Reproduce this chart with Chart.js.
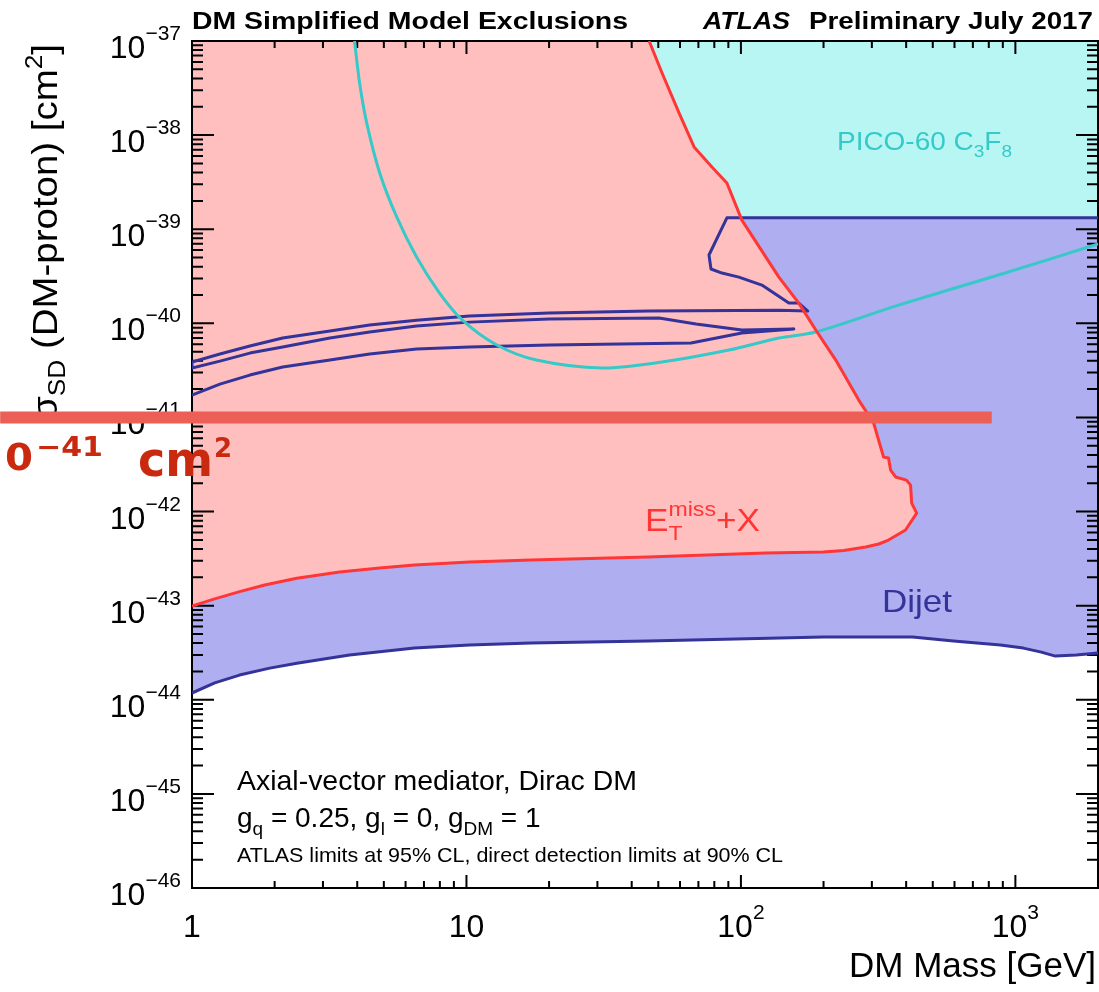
<!DOCTYPE html>
<html>
<head>
<meta charset="utf-8">
<title>DM Simplified Model Exclusions</title>
<script src="https://cdn.jsdelivr.net/npm/chart.js@4.4.1/dist/chart.umd.min.js"></script>
<style>
  html, body { margin: 0; padding: 0; background: #fff; }
  #wrap { position: relative; width: 1099px; height: 992px; }
</style>
</head>
<body>
<div id="wrap"><canvas id="chart"></canvas></div>
<script>
// E_T^miss + X contour: down from the top edge, round the nose, back along the bottom to m = 1
const metMass = [46.3, 51.6, 59.5, 67.5, 78.4, 88.9, 100.8, 137.5, 162.5, 187.4, 221.6, 268.7, 304.5, 331, 345,
  351, 366, 401, 415, 419, 437, 398, 345, 318, 285, 237, 200, 123, 45.9, 17.2, 10.25, 6.47, 4.83, 3.45, 2.41,
  1.84, 1.48, 1.21, 1];
const metXsec = [1e-37, 4.57e-38, 1.72e-38, 7.48e-39, 4.58e-39, 3.10e-39, 1.25e-39, 3.10e-40, 1.64e-40, 8.49e-41,
  4.07e-41, 1.53e-41, 8.72e-42, 3.79e-42, 3.70e-42, 2.76e-42, 2.33e-42, 2.16e-42, 1.91e-42, 1.23e-42, 9.64e-43,
  6.36e-43, 4.98e-43, 4.52e-43, 4.20e-43, 3.85e-43, 3.71e-43, 3.62e-43, 3.28e-43, 3.05e-43, 2.91e-43, 2.70e-43,
  2.51e-43, 2.28e-43, 1.96e-43, 1.66e-43, 1.40e-43, 1.18e-43, 9.9e-44];

// dijet upper contour (the loop, then the thin strips running off to the left)
const dijetMass = [2000, 88.9, 76.5, 77.8, 85.3, 98.3, 119.2, 149.5, 162.5, 175.2, 137.5, 46.3, 20.0, 10.25, 6.58,
  4.44, 3.18, 2.14, 1.625, 1.264, 1, 1, 1.264, 1.625, 2.14, 3.18, 4.44, 6.58, 10.25, 20.0, 50.3, 68.6, 100.8, 155.9,
  100.8, 65.8, 20.0, 10.25, 6.58, 4.44, 3.18, 2.14, 1.625, 1.264, 1];
const dijetXsec = [1.32e-39, 1.32e-39, 5.32e-40, 3.78e-40, 3.42e-40, 3.10e-40, 2.55e-40, 1.64e-40, 1.64e-40,
  1.35e-40, 1.38e-40, 1.35e-40, 1.29e-40, 1.20e-40, 1.08e-40, 9.59e-41, 8.28e-41, 6.98e-41, 5.74e-41, 4.72e-41,
  3.88e-41, 3.35e-41, 3.97e-41, 4.83e-41, 5.60e-41, 6.98e-41, 8.09e-41, 9.36e-41, 1.03e-40, 1.11e-40, 1.14e-40,
  9.84e-41, 8.49e-41, 8.70e-41, 7.88e-41, 6.18e-41, 5.88e-41, 5.60e-41, 5.33e-41, 4.72e-41, 4.07e-41, 3.43e-41,
  2.82e-41, 2.26e-41, 1.73e-41];

// dijet lower edge
const dijetLowMass = [1, 1.21, 1.49, 1.92, 2.41, 3.75, 6.47, 10.25, 17.2, 45.9, 200, 422, 595, 882, 1069, 1243,
  1398, 1667, 2000];
const dijetLowXsec = [1.18e-44, 1.51e-44, 1.83e-44, 2.17e-44, 2.45e-44, 2.99e-44, 3.54e-44, 3.81e-44, 4.01e-44,
  4.21e-44, 4.64e-44, 4.64e-44, 4.21e-44, 3.81e-44, 3.54e-44, 3.21e-44, 2.91e-44, 2.99e-44, 3.14e-44];

// PICO-60 C3F8
const picoMass = [3.91, 4.08, 4.33, 4.83, 5.57, 6.58, 7.98, 9.67, 12.9, 17.97, 31.2, 51.6, 90.4, 137.5, 187.4,
  375, 868, 2000];
const picoXsec = [1.0e-37, 3.58e-38, 1.35e-38, 3.96e-39, 1.35e-39, 5.07e-40, 2.10e-40, 1.08e-40, 5.88e-41, 4.07e-41,
  3.35e-41, 3.88e-41, 5.20e-41, 6.98e-41, 8.09e-41, 1.56e-40, 3.26e-40, 6.97e-40];

// hand-drawn marker at 1e-41 cm^2
const markMass = [0.2, 820];
const markXsec = [1e-41, 1e-41];

const xTickValues = [1, 10, 100, 1000];
const xTickLabels = ['1', '10', '10^2', '10^3'];
const yTickValues = [1e-46, 1e-45, 1e-44, 1e-43, 1e-42, 1e-41, 1e-40, 1e-39, 1e-38, 1e-37];
const yTickLabels = ['10^−46', '10^−45', '10^−44', '10^−43', '10^−42', '10^−41', '10^−40', '10^−39', '10^−38', '10^−37'];

const FONT = '"Liberation Sans", Arial, Helvetica, sans-serif';

function pts(xs, ys) {
    return xs.map((x, i) => ({x: x, y: ys[i]}));
}

function fontOf(r) {
    return (r.style || '') + ' ' + r.size + 'px ' + (r.family || FONT);
}

// draws runs of text (for sub/superscripts); optional width stretches the whole thing
function drawRuns(ctx, runs, x, y, align, color, width) {
    let cur = 0, start = 0, prevW = 0;
    const placed = [];
    runs.forEach(r => {
        ctx.font = fontOf(r);
        const w = ctx.measureText(r.t).width;
        if (r.stack) {
            placed.push([r, start]);
            if (w > prevW) { cur += w - prevW; prevW = w; }
        } else {
            placed.push([r, cur]);
            start = cur; prevW = w; cur += w;
        }
    });
    const sx = width ? width / cur : 1;
    const off = align === 'right' ? -cur : align === 'center' ? -cur / 2 : 0;
    ctx.save();
    ctx.translate(x, y);
    ctx.scale(sx, 1);
    ctx.fillStyle = color;
    ctx.textAlign = 'left';
    ctx.textBaseline = 'alphabetic';
    placed.forEach(([r, px]) => {
        ctx.font = fontOf(r);
        ctx.fillText(r.t, off + px, r.dy || 0);
    });
    ctx.restore();
}

function powerRuns(label, size, supSize, supDy) {
    const [base, exp] = label.split('^');
    const runs = [{t: base, size: size}];
    if (exp) runs.push({t: exp, size: supSize, dy: supDy});
    return runs;
}

const frame = {
    id: 'frame',
    beforeDatasetsDraw(chart) {
        const {ctx, chartArea: a, scales: {x, y}} = chart;
        ctx.save();
        ctx.strokeStyle = '#000';
        ctx.lineWidth = 2;
        ctx.beginPath();
        for (let e = 0; e <= 3; e++) {
            for (let m = 1; m <= 9; m++) {
                const v = m * Math.pow(10, e);
                if (v >= x.max) continue;
                const px = x.getPixelForValue(v);
                const len = m === 1 ? 13 : 7;
                ctx.moveTo(px, a.bottom); ctx.lineTo(px, a.bottom - len);
                ctx.moveTo(px, a.top); ctx.lineTo(px, a.top + len);
            }
        }
        for (let e = -46; e <= -38; e++) {
            for (let m = 1; m <= 9; m++) {
                const py = y.getPixelForValue(m * Math.pow(10, e));
                const len = m === 1 ? 22 : 11;
                ctx.moveTo(a.left, py); ctx.lineTo(a.left + len, py);
                ctx.moveTo(a.right, py); ctx.lineTo(a.right - len, py);
            }
        }
        ctx.stroke();
        ctx.strokeRect(a.left, a.top, a.right - a.left, a.bottom - a.top);

        xTickValues.forEach((v, i) => {
            drawRuns(ctx, powerRuns(xTickLabels[i], 32, 21, -18), x.getPixelForValue(v), 937, 'center', '#000');
        });
        yTickValues.forEach((v, i) => {
            drawRuns(ctx, powerRuns(yTickLabels[i], 32, 21, -18), 181, y.getPixelForValue(v) + 17, 'right', '#000');
        });

        drawRuns(ctx, [{t: 'DM Mass [GeV]', size: 35}], 1096, 977, 'right', '#000');
        ctx.save();
        ctx.translate(57, 44);
        ctx.rotate(-Math.PI / 2);
        drawRuns(ctx, [
            {t: 'σ', size: 35}, {t: 'SD', size: 24, dy: 8}, {t: ' (DM-proton) [cm', size: 35},
            {t: '2', size: 24, dy: -15}, {t: ']', size: 35}
        ], 0, 0, 'right', '#000', 376);
        ctx.restore();

        drawRuns(ctx, [{t: 'DM Simplified Model Exclusions', size: 23, style: 'bold'}], 192, 29, 'left', '#000', 436);
        drawRuns(ctx, [{t: 'ATLAS', size: 23, style: 'italic bold'}], 703, 29, 'left', '#000', 87);
        drawRuns(ctx, [{t: 'Preliminary July 2017', size: 23, style: 'bold'}], 1093, 29, 'right', '#000', 284);
        ctx.restore();
    },
    afterDraw(chart) {
        const ctx = chart.ctx;
        drawRuns(ctx, [{t: 'PICO-60 C', size: 25}, {t: '3', size: 17, dy: 7}, {t: 'F', size: 25}, {t: '8', size: 17, dy: 7}],
            837, 150, 'left', '#36c9c9', 175);
        drawRuns(ctx, [{t: 'E', size: 32}, {t: 'miss', size: 21, dy: -15}, {t: 'T', size: 21, dy: 9, stack: true}, {t: '+X', size: 32}],
            645, 531, 'left', '#ff3636', 115);
        drawRuns(ctx, [{t: 'Dijet', size: 32}], 882, 612, 'left', '#33339a', 70);

        drawRuns(ctx, [{t: 'Axial-vector mediator, Dirac DM', size: 28}], 237, 790, 'left', '#000', 400);
        drawRuns(ctx, [
            {t: 'g', size: 28}, {t: 'q', size: 19, dy: 8}, {t: ' = 0.25, g', size: 28}, {t: 'l', size: 19, dy: 8},
            {t: ' = 0, g', size: 28}, {t: 'DM', size: 19, dy: 8}, {t: ' = 1', size: 28}
        ], 237, 827, 'left', '#000');
        drawRuns(ctx, [{t: 'ATLAS limits at 95% CL, direct detection limits at 90% CL', size: 21}], 237, 862, 'left', '#000', 546);

        // handwritten note under the marker
        const hand = {family: '"DejaVu Sans", sans-serif', style: 'bold'};
        drawRuns(ctx, [Object.assign({t: '0', size: 37}, hand)], 5, 470, 'left', '#c9290f', 28);
        drawRuns(ctx, [Object.assign({t: '−41', size: 27}, hand)], 36, 456, 'left', '#c9290f', 67);
        drawRuns(ctx, [Object.assign({t: 'cm', size: 48}, hand)], 138, 476, 'left', '#c9290f', 75);
        drawRuns(ctx, [Object.assign({t: '2', size: 26}, hand)], 214, 457, 'left', '#c9290f');
    }
};

const hidden = {borderColor: 'transparent', borderWidth: 0};

new Chart(document.getElementById('chart'), {
    type: 'line',
    data: {
        datasets: [
            {label: 'marker', data: pts(markMass, markXsec), borderColor: '#eb5f57', borderWidth: 12,
                borderCapStyle: 'butt', fill: false, clip: false, order: -1},
            {label: 'ETmiss+X', data: pts(metMass, metXsec), borderColor: '#ff3636', borderWidth: 3, fill: false, order: 0},
            {label: 'PICO-60', data: pts(picoMass, picoXsec), borderColor: '#36c9c9', borderWidth: 3,
                tension: 0.3, fill: false, order: 1},
            {label: 'Dijet', data: pts(dijetMass, dijetXsec), borderColor: '#33339a', borderWidth: 3, fill: false, order: 2},
            {label: 'Dijet low', data: pts(dijetLowMass, dijetLowXsec), borderColor: '#33339a', borderWidth: 3, fill: false, order: 2},
            Object.assign({label: 'ETmiss+X area', data: pts(metMass.concat([1]), metXsec.concat([1e-37])),
                backgroundColor: '#ffbfbf', fill: 'shape', order: 3}, hidden),
            Object.assign({label: 'Dijet area', data: pts(dijetMass.concat(dijetLowMass), dijetXsec.concat(dijetLowXsec)),
                backgroundColor: '#aeaef0', fill: 'shape', order: 4}, hidden),
            Object.assign({label: 'PICO-60 area', data: pts(picoMass, picoXsec), tension: 0.3,
                backgroundColor: '#b8f6f4', fill: 'end', order: 5}, hidden)
        ]
    },
    options: {
        responsive: true,
        maintainAspectRatio: false,
        devicePixelRatio: 1,
        animation: false,
        layout: {padding: {left: 192, top: 41, right: 1, bottom: 104}},
        elements: {
            point: {radius: 0, hoverRadius: 0},
            line: {tension: 0, borderJoinStyle: 'round'}
        },
        scales: {
            x: {type: 'logarithmic', min: 1, max: 2000, bounds: 'data', display: false},
            y: {type: 'logarithmic', min: 1e-46, max: 1e-37, bounds: 'data', display: false}
        },
        plugins: {
            legend: {display: false},
            tooltip: {enabled: false},
            filler: {drawTime: 'beforeDatasetsDraw', propagate: false}
        }
    },
    plugins: [frame]
});
</script>
</body>
</html>
